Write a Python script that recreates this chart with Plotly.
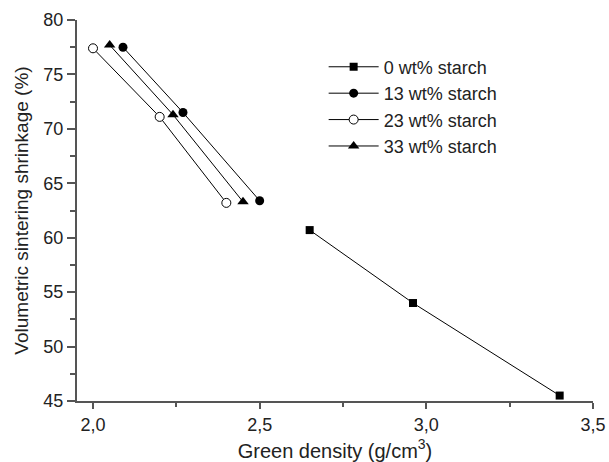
import plotly.graph_objects as go

# Green density (g/cm3) and volumetric sintering shrinkage (%) per starch content
density_0 = [2.65, 2.96, 3.40]
shrink_0 = [60.7, 54.0, 45.5]

density_13 = [2.09, 2.27, 2.50]
shrink_13 = [77.5, 71.5, 63.4]

density_23 = [2.00, 2.20, 2.40]
shrink_23 = [77.4, 71.1, 63.2]

density_33 = [2.05, 2.24, 2.45]
shrink_33 = [77.7, 71.3, 63.3]

series_names = ["0 wt% starch", "13 wt% starch", "23 wt% starch", "33 wt% starch"]

x_tickvals = [2.0, 2.5, 3.0, 3.5]
x_ticktext = ["2,0", "2,5", "3,0", "3,5"]
y_tickvals = [45, 50, 55, 60, 65, 70, 75, 80]

FONT = "Liberation Sans, Arial, sans-serif"
TEXT_COLOR = "#222222"
AXIS_COLOR = "#555555"

markers = [
    dict(symbol="square", size=8, color="black"),
    dict(symbol="circle", size=9, color="black"),
    dict(symbol="circle", size=9, color="white", line=dict(width=1, color="black")),
    dict(symbol="triangle-up", size=10, color="black"),
]
xs_all = [density_0, density_13, density_23, density_33]
ys_all = [shrink_0, shrink_13, shrink_23, shrink_33]

fig = go.Figure()
for name, xs, ys, marker in zip(series_names, xs_all, ys_all, markers):
    fig.add_trace(go.Scatter(
        x=xs, y=ys, name=name, mode="lines+markers",
        line=dict(color="black", width=1),
        marker=marker,
    ))

fig.update_layout(
    width=609, height=462,
    margin=dict(l=77, r=16, t=20, b=61),
    paper_bgcolor="white", plot_bgcolor="white",
    font=dict(family=FONT, size=18, color=TEXT_COLOR),
    showlegend=True,
    legend=dict(
        x=0.478, y=0.925, xanchor="left", yanchor="top",
        font=dict(family=FONT, size=18, color=TEXT_COLOR),
        bgcolor="rgba(0,0,0,0)", borderwidth=0,
        itemwidth=50, tracegroupgap=0,
    ),
)

fig.update_xaxes(
    range=[1.952, 3.5], automargin=False,
    tickvals=x_tickvals, ticktext=x_ticktext,
    ticks="outside", ticklen=6, tickwidth=1.5, tickcolor=AXIS_COLOR,
    minor=dict(dtick=0.25, tick0=2.0, ticks="outside", ticklen=4,
               tickwidth=1.5, tickcolor=AXIS_COLOR),
    showline=True, linecolor=AXIS_COLOR, linewidth=2,
    showgrid=False, zeroline=False,
    title=dict(text="Green density (g/cm<sup>3</sup>)", standoff=10,
               font=dict(family=FONT, size=20, color=TEXT_COLOR)),
    tickfont=dict(family=FONT, size=18, color=TEXT_COLOR),
)

fig.update_yaxes(
    range=[45, 80], automargin=False,
    tickvals=y_tickvals,
    ticks="outside", ticklen=8, tickwidth=1.5, tickcolor=AXIS_COLOR,
    minor=dict(dtick=2.5, tick0=45, ticks="outside", ticklen=5,
               tickwidth=1.5, tickcolor=AXIS_COLOR),
    showline=True, linecolor=AXIS_COLOR, linewidth=2,
    showgrid=False, zeroline=False,
    title=dict(text="Volumetric sintering shrinkage (%)", standoff=10,
               font=dict(family=FONT, size=19, color=TEXT_COLOR)),
    tickfont=dict(family=FONT, size=18, color=TEXT_COLOR),
)

fig.write_html("out.html")
